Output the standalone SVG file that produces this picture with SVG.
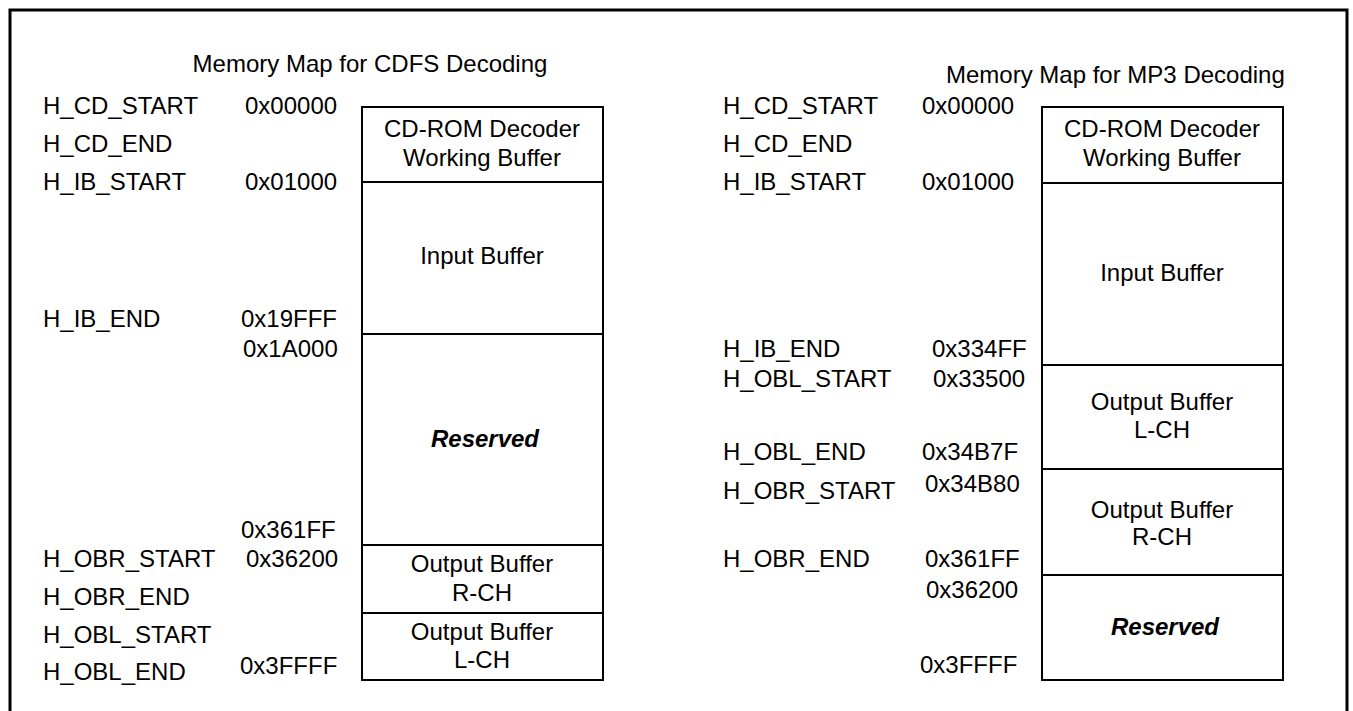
<svg xmlns="http://www.w3.org/2000/svg" width="1353" height="711" viewBox="0 0 1353 711">
<style>
text{font-family:"Liberation Sans",Arial,sans-serif;font-size:24px;fill:#000}
.c{text-anchor:middle}
.b{font-weight:bold;font-style:italic}
.seg{fill:#fff;stroke:#000;stroke-width:2}
</style>
<rect width="1353" height="711" fill="#fff"/>
<path d="M10,720 V10 H1347 V720" fill="none" stroke="#000" stroke-width="3"/>
<g id="left-map">
<text x="370" y="72" class="c">Memory Map for CDFS Decoding</text>
<g id="left-labels">
<text x="43" y="114">H_CD_START</text>
<text x="43" y="152">H_CD_END</text>
<text x="43" y="190">H_IB_START</text>
<text x="43" y="327">H_IB_END</text>
<text x="43" y="567">H_OBR_START</text>
<text x="43" y="605">H_OBR_END</text>
<text x="43" y="643">H_OBL_START</text>
<text x="43" y="680">H_OBL_END</text>
<text x="245" y="114">0x00000</text>
<text x="245" y="190">0x01000</text>
<text x="241" y="327">0x19FFF</text>
<text x="243" y="357">0x1A000</text>
<text x="241" y="538">0x361FF</text>
<text x="246" y="567">0x36200</text>
<text x="240" y="674">0x3FFFF</text>
</g>
<g id="L-cdrom"><rect class="seg" x="362" y="107" width="241" height="75"/><text x="482" y="137" class="c">CD-ROM Decoder</text><text x="482" y="166" class="c">Working Buffer</text></g>
<g id="L-input"><rect class="seg" x="362" y="182" width="241" height="152"/><text x="482" y="264" class="c">Input Buffer</text></g>
<g id="L-reserved"><rect class="seg" x="362" y="334" width="241" height="211"/><text x="485" y="447" class="c b">Reserved</text></g>
<g id="L-obr"><rect class="seg" x="362" y="545" width="241" height="68"/><text x="482" y="572" class="c">Output Buffer</text><text x="482" y="601" class="c">R-CH</text></g>
<g id="L-obl"><rect class="seg" x="362" y="613" width="241" height="67"/><text x="482" y="640" class="c">Output Buffer</text><text x="482" y="668" class="c">L-CH</text></g>
</g>
<g id="right-map">
<text x="946" y="83">Memory Map for MP3 Decoding</text>
<g id="right-labels">
<text x="723" y="114">H_CD_START</text>
<text x="723" y="152">H_CD_END</text>
<text x="723" y="190">H_IB_START</text>
<text x="723" y="357">H_IB_END</text>
<text x="723" y="387">H_OBL_START</text>
<text x="723" y="460">H_OBL_END</text>
<text x="723" y="499">H_OBR_START</text>
<text x="723" y="567">H_OBR_END</text>
<text x="922" y="114">0x00000</text>
<text x="922" y="190">0x01000</text>
<text x="932" y="357">0x334FF</text>
<text x="933" y="387">0x33500</text>
<text x="922" y="460">0x34B7F</text>
<text x="925" y="492">0x34B80</text>
<text x="925" y="567">0x361FF</text>
<text x="926" y="598">0x36200</text>
<text x="920" y="673">0x3FFFF</text>
</g>
<g id="R-cdrom"><rect class="seg" x="1042" y="107" width="241" height="76"/><text x="1162" y="137" class="c">CD-ROM Decoder</text><text x="1162" y="166" class="c">Working Buffer</text></g>
<g id="R-input"><rect class="seg" x="1042" y="183" width="241" height="182"/><text x="1162" y="281" class="c">Input Buffer</text></g>
<g id="R-obl"><rect class="seg" x="1042" y="365" width="241" height="104"/><text x="1162" y="410" class="c">Output Buffer</text><text x="1162" y="438" class="c">L-CH</text></g>
<g id="R-obr"><rect class="seg" x="1042" y="469" width="241" height="106"/><text x="1162" y="518" class="c">Output Buffer</text><text x="1162" y="545" class="c">R-CH</text></g>
<g id="R-reserved"><rect class="seg" x="1042" y="575" width="241" height="105"/><text x="1165" y="635" class="c b">Reserved</text></g>
</g>
</svg>
